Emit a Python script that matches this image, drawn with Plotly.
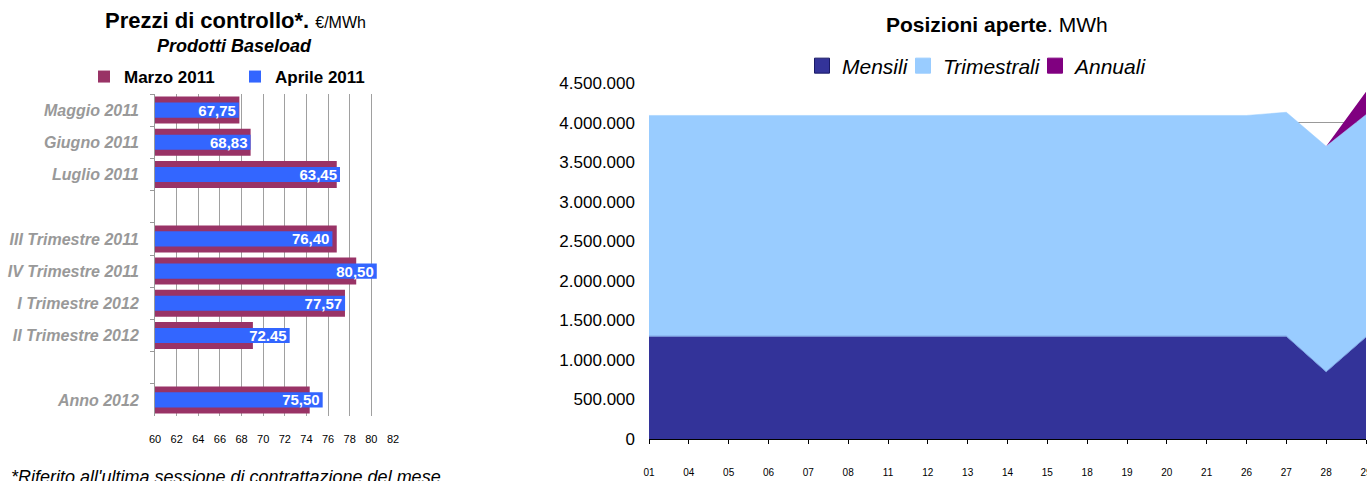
import plotly.graph_objects as go

FONT = "Liberation Sans, Arial, sans-serif"
W, H = 1367, 481

# ---- Left chart data ----
categories = ["Maggio 2011", "Giugno 2011", "Luglio 2011", " ",
              "III Trimestre 2011", "IV Trimestre 2011", "I Trimestre 2012",
              "II Trimestre 2012", "  ", "Anno 2012"]
bar_cats = ["Maggio 2011", "Giugno 2011", "Luglio 2011",
            "III Trimestre 2011", "IV Trimestre 2011", "I Trimestre 2012",
            "II Trimestre 2012", "Anno 2012"]
marzo_2011 = [67.8, 68.84, 76.8, 76.8, 78.6, 77.56, 69.05, 74.3]
aprile_2011 = [67.75, 68.83, 77.1, 76.40, 80.50, 77.57, 72.45, 75.50]
aprile_labels = ["67,75", "68,83", "63,45", "76,40", "80,50", "77,57", "72.45", "75,50"]
x_ticks_left = list(range(60, 83, 2))

# ---- Right chart data ----
days = ["01", "04", "05", "06", "07", "08", "11", "12", "13", "14", "15",
        "18", "19", "20", "21", "26", "27", "28", "29"]
mensili = [1300000] * 16 + [1300000, 850000, 1290000]
trimestrali = [2790000] * 16 + [2830000, 2850000, 2810000]
annuali = [0] * 18 + [290000]
series_names = ["Mensili", "Trimestrali", "Annuali"]
series_colors = ["#333399", "#99CCFF", "#800080"]


def px_x(p):
    return p / W


def px_y(p):
    return 1 - p / H


fig = go.Figure()

fig.add_trace(go.Bar(
    y=bar_cats, x=marzo_2011, orientation="h", name="Marzo 2011",
    marker=dict(color="#993366", line=dict(width=0)), width=0.84,
    xaxis="x", yaxis="y", legend="legend", base=0,
))
fig.add_trace(go.Bar(
    y=bar_cats, x=aprile_2011, orientation="h", name="Aprile 2011",
    marker=dict(color="#3366FF", line=dict(width=0)), width=0.47,
    text=aprile_labels, textposition="inside", insidetextanchor="end",
    textangle=0, constraintext="none",
    textfont=dict(color="white", size=15, family=FONT, weight="bold"),
    xaxis="x", yaxis="y", legend="legend", base=0,
))

# stacked areas (legend drawn by square-marker entries below)
fig.add_trace(go.Scatter(
    x=days, y=mensili, name="Mensili", stackgroup="one", mode="lines",
    line=dict(color="#7799DD", width=1), fillcolor=series_colors[0],
    xaxis="x2", yaxis="y2", showlegend=False,
))
fig.add_trace(go.Scatter(
    x=days, y=trimestrali, name="Trimestrali", stackgroup="one", mode="lines",
    line=dict(color="#99CCFF", width=0.5), fillcolor=series_colors[1],
    xaxis="x2", yaxis="y2", showlegend=False,
))
fig.add_trace(go.Scatter(
    x=days, y=annuali, name="Annuali", stackgroup="one", mode="lines",
    line=dict(color="#800080", width=0), fillcolor=series_colors[2],
    xaxis="x2", yaxis="y2", showlegend=False,
))
legend_ids = ["legend2", "legend3", "legend4"]
for nm, col, lg in zip(series_names, series_colors, legend_ids):
    fig.add_trace(go.Scatter(
        x=[None], y=[None], name=nm, mode="markers",
        marker=dict(symbol="square", size=15, color=col,
                    line=dict(color="#1a1a66" if nm == "Mensili" else col, width=1)),
        xaxis="x2", yaxis="y2", legend=lg, hoverinfo="skip",
    ))

right_legend = dict(orientation="h", xanchor="left", yanchor="middle",
                    bgcolor="rgba(0,0,0,0)", itemwidth=30,
                    font=dict(size=21, style="italic", color="#000000"))

fig.update_layout(
    width=W, height=H,
    margin=dict(l=0, r=0, t=0, b=0, autoexpand=False),
    paper_bgcolor="white", plot_bgcolor="white",
    separators=",.", barmode="overlay",
    font=dict(family=FONT, color="#000000"),
    xaxis=dict(domain=[px_x(155), px_x(393)], range=[60, 82], anchor="y",
               tickvals=x_ticks_left, showgrid=True, gridcolor="#A0A0A0",
               gridwidth=1, zeroline=False, showline=False, ticks="",
               tickfont=dict(size=11, color="#000000"), ticklabelstandoff=15),
    yaxis=dict(domain=[px_y(416), px_y(94)], anchor="x", type="category",
               categoryorder="array", categoryarray=categories,
               range=[9.5, -0.5], tickson="boundaries", ticks="outside",
               ticklen=4, tickcolor="#999999", showline=True,
               linecolor="#999999", linewidth=1, showgrid=False,
               tickfont=dict(size=16, color="#999999", weight="bold",
                             style="italic"),
               ticklabelstandoff=12),
    xaxis2=dict(domain=[px_x(649), px_x(1366)], anchor="y2", type="category",
                range=[0, 18], ticks="outside", ticklen=4, tickcolor="#000000",
                showline=True, linecolor="#000000", linewidth=1,
                showgrid=False, tickfont=dict(size=10, color="#000000"),
                ticklabelstandoff=20),
    yaxis2=dict(domain=[px_y(439), px_y(83)], anchor="x2",
                range=[0, 4500000], dtick=500000, tickformat=",d",
                showgrid=True, gridcolor="#999999", gridwidth=1,
                zeroline=False, showline=False, ticks="",
                tickfont=dict(size=17, color="#000000"), ticklabelstandoff=13),
    legend=dict(orientation="h", x=px_x(84), y=px_y(77), xanchor="left",
                yanchor="middle", bgcolor="rgba(0,0,0,0)", entrywidth=106,
                entrywidthmode="pixels", itemwidth=30,
                font=dict(size=17, weight="bold", color="#000000"),
                traceorder="normal"),
    legend2=dict(right_legend, x=px_x(802), y=px_y(66)),
    legend3=dict(right_legend, x=px_x(903), y=px_y(66)),
    legend4=dict(right_legend, x=px_x(1035), y=px_y(66)),
    annotations=[
        dict(text="<b>Prezzi di controllo*.</b> <span style='font-size:16px'>€/MWh</span>",
             x=px_x(235), y=px_y(21), xref="paper", yref="paper",
             xanchor="center", yanchor="middle", showarrow=False,
             font=dict(size=22, color="#000000")),
        dict(text="<b><i>Prodotti Baseload</i></b>",
             x=px_x(234), y=px_y(46), xref="paper", yref="paper",
             xanchor="center", yanchor="middle", showarrow=False,
             font=dict(size=18, color="#000000")),
        dict(text="<b>Posizioni aperte</b>. MWh",
             x=px_x(997), y=px_y(24), xref="paper", yref="paper",
             xanchor="center", yanchor="middle", showarrow=False,
             font=dict(size=21, color="#000000")),
        dict(text="<i>*Riferito all'ultima sessione di contrattazione del mese</i>",
             x=px_x(9), y=px_y(477), xref="paper", yref="paper",
             xanchor="left", yanchor="middle", showarrow=False,
             font=dict(size=18, color="#000000")),
    ],
)

fig.write_html("out.html")
